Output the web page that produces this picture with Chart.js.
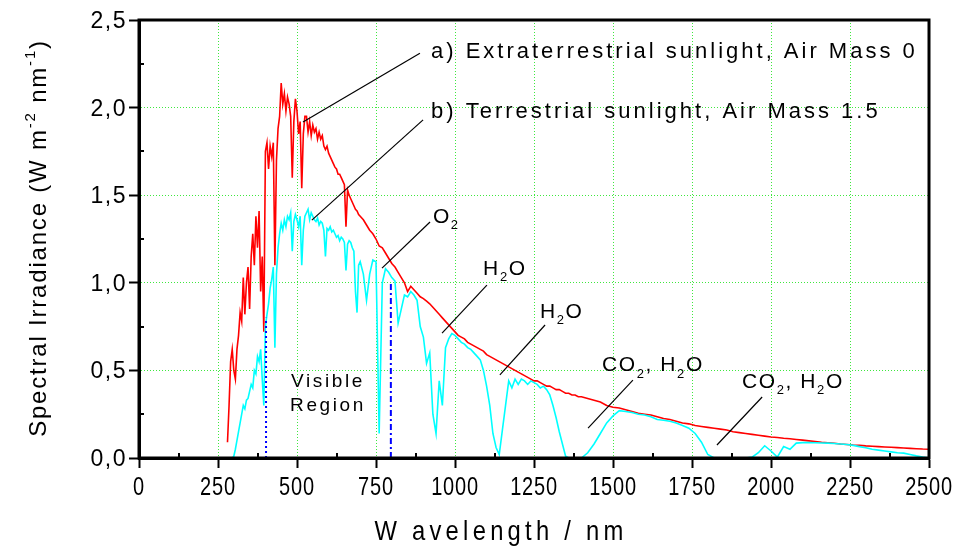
<!DOCTYPE html>
<html><head><meta charset="utf-8">
<script src="https://cdn.jsdelivr.net/npm/chart.js@4/dist/chart.umd.min.js"></script>
<style>html,body{margin:0;padding:0;background:#fff}#wrap{width:963px;height:552px}</style>
</head><body><div id="wrap"><canvas id="c" width="963" height="552"></canvas></div>
<script>
// ---- data ----
const wavelengths = [
280,285,290,295,300,305,310,315,320,325,330,335,340,345,350,355,360,365,370,375,
380,385,390,395,400,405,410,415,420,425,430,435,440,445,450,455,460,465,470,475,
480,485,490,495,500,505,510,515,520,525,530,535,540,545,550,555,560,565,570,575,
580,585,590,595,600,605,610,615,620,625,630,635,640,645,650,655,660,665,670,675,
680,685,690,695,700,
710,720,730,740,750,760,770,780,790,800,810,820,830,840,850,860,870,880,890,900,
910,920,930,940,950,960,970,980,990,1000,1010,1020,1030,1040,1050,1060,1070,1080,1090,1100,
1110,1120,1130,1140,1150,1160,1170,1180,1190,1200,1210,1220,1230,1240,1250,1260,1270,1280,1290,1300,
1310,1320,1330,1340,1350,1360,1370,1380,1390,1400,
1420,1440,1460,1480,1500,1520,1540,1560,1580,1600,1620,1640,1660,1680,1700,1720,1740,1760,1780,1800,
1820,1840,1860,1880,1900,1920,1940,1960,1980,2000,2020,2040,2060,2080,2100,2120,2140,2160,2180,2200,
2220,2240,2260,2280,2300,2320,2340,2360,2380,2400,2420,2440,2460,2480,2500];

const am0 = [
0.09,0.30,0.55,0.62,0.50,0.45,0.62,0.70,0.83,0.78,1.03,0.82,1.00,1.09,0.85,1.15,1.28,1.10,1.38,1.20,
1.41,0.95,1.15,0.72,1.75,1.80,1.65,1.78,1.72,1.80,1.10,1.70,1.88,1.95,2.14,2.02,2.08,1.98,2.06,2.02,
1.95,1.60,1.92,2.05,1.98,1.85,1.92,1.54,1.85,1.95,1.95,1.86,1.92,1.84,1.90,1.86,1.88,1.82,1.86,1.82,
1.84,1.78,1.76,1.78,1.74,1.72,1.70,1.68,1.66,1.65,1.62,1.62,1.60,1.58,1.56,1.32,1.53,1.50,1.48,1.46,
1.44,1.42,1.41,1.39,1.38,
1.36,1.33,1.30,1.28,1.25,1.21,1.20,1.17,1.14,1.11,1.09,1.06,1.03,1.00,0.95,0.98,0.96,0.94,0.92,0.91,
0.895,0.88,0.86,0.84,0.82,0.80,0.78,0.76,0.74,0.72,0.70,0.69,0.68,0.66,0.65,0.64,0.63,0.62,0.61,0.59,
0.58,0.57,0.56,0.55,0.54,0.53,0.52,0.51,0.50,0.49,0.48,0.47,0.46,0.45,0.44,0.44,0.43,0.42,0.41,0.41,
0.40,0.39,0.39,0.38,0.37,0.37,0.36,0.36,0.35,0.35,
0.34,0.33,0.32,0.30,0.29,0.285,0.275,0.265,0.255,0.25,0.245,0.235,0.225,0.22,0.21,0.20,0.195,0.185,0.18,0.175,
0.17,0.165,0.16,0.15,0.145,0.14,0.135,0.13,0.125,0.12,0.117,0.113,0.11,0.106,0.102,0.098,0.094,0.09,0.087,0.084,
0.08,0.077,0.074,0.072,0.069,0.067,0.065,0.063,0.061,0.059,0.057,0.055,0.053,0.051,0.05];

const am15 = [
0,0,0,0,0.01,0.05,0.10,0.15,0.20,0.25,0.30,0.28,0.33,0.34,0.38,0.42,0.40,0.50,0.48,0.58,
0.55,0.62,0.45,0.30,0.75,0.82,0.88,0.97,1.02,1.09,0.63,1.05,1.20,1.28,1.34,1.30,1.36,1.32,1.38,1.36,
1.40,1.18,1.35,1.39,1.36,1.32,1.38,1.10,1.30,1.38,1.40,1.42,1.36,1.40,1.38,1.36,1.35,1.37,1.33,1.35,
1.34,1.30,1.15,1.31,1.30,1.32,1.29,1.30,1.28,1.26,1.27,1.24,1.26,1.25,1.23,1.07,1.22,1.24,1.23,1.20,
1.18,0.95,0.83,1.10,1.12,
1.05,0.90,1.05,1.13,1.12,0.14,1.00,1.08,1.06,1.03,1.01,0.77,0.85,0.93,0.92,0.95,0.93,0.90,0.75,0.69,
0.54,0.60,0.25,0.14,0.44,0.30,0.63,0.68,0.71,0.70,0.68,0.66,0.65,0.63,0.62,0.60,0.58,0.56,0.50,0.41,
0.30,0.14,0.06,0.02,0.16,0.30,0.44,0.40,0.45,0.42,0.45,0.44,0.42,0.44,0.43,0.42,0.40,0.41,0.39,0.36,
0.30,0.23,0.15,0.08,0.01,0,0,0,0,0,
0.03,0.08,0.14,0.20,0.24,0.27,0.265,0.26,0.25,0.245,0.235,0.22,0.215,0.21,0.20,0.185,0.17,0.14,0.09,0.02,
0,0,0,0,0,0,0.005,0.03,0.07,0.04,0.005,0.065,0.05,0.085,0.088,0.088,0.087,0.086,0.085,0.083,
0.08,0.077,0.072,0.065,0.058,0.05,0.045,0.04,0.035,0.03,0.028,0.02,0.012,0.005,0];

const xTickValues = [0,250,500,750,1000,1250,1500,1750,2000,2250,2500];
const xTickLabels = ['0','250','500','750','1000','1250','1500','1750','2000','2250','2500'];
const yTickValues = [0,0.5,1.0,1.5,2.0,2.5];
const yTickLabels = ['0,0','0,5','1,0','1,5','2,0','2,5'];
const xMinorTicks = [125,375,625,875,1125,1375,1625,1875,2125,2375];
const yMinorTicks = [0.25,0.75,1.25,1.75,2.25];

// visible-region limits: [wavelength, top value]
const visibleLimitBlue = [402, 0.80];
const visibleLimitRed = [797, 1.01];

// leader lines: [x1,y1,x2,y2] in data units
const leaderLines = [
  [519,1.918,889,2.31],
  [547,1.358,899,1.93],
  [769,1.084,921,1.347],
  [959,0.713,1101,0.987],
  [1142,0.474,1285,0.759],
  [1421,0.171,1563,0.445],
  [1829,0.074,1972,0.348]
];
// annotation texts: parts [text, mode(0 normal,1 sub)], anchor x, y (data units, cap centre)
const annotations = [
  {parts:[['a) Extraterrestrial sunlight, Air Mass 0',0]], x:924, y:2.329, align:'left', size:22, ls:3.0},
  {parts:[['b) Terrestrial sunlight, Air Mass 1.5',0]], x:924, y:1.986, align:'left', size:22, ls:3.0},
  {parts:[['O',0],['2',1]], x:930, y:1.387, align:'left', size:21, ls:1.6},
  {parts:[['H',0],['2',1],['O',0]], x:1089, y:1.090, align:'left', size:21, ls:1.6},
  {parts:[['H',0],['2',1],['O',0]], x:1269, y:0.845, align:'left', size:21, ls:1.6},
  {parts:[['CO',0],['2',1],[', H',0],['2',1],['O',0]], x:1465, y:0.537, align:'left', size:21, ls:1.6},
  {parts:[['CO',0],['2',1],[', H',0],['2',1],['O',0]], x:1908, y:0.445, align:'left', size:21, ls:1.6},
  {parts:[['Visible',0]], x:598, y:0.445, align:'center', size:19, ls:2.6},
  {parts:[['Region',0]], x:598, y:0.308, align:'center', size:19, ls:2.6}
];

const FAM = "'Liberation Sans', Arial, sans-serif";

function drawRich(ctx, parts, x, y, size, family, ls, align, sx){
  sx = sx || 1;
  ctx.save();
  ctx.textBaseline = 'alphabetic';
  ctx.textAlign = 'left';
  ctx.letterSpacing = ls + 'px';
  const widths = [];
  let w = 0;
  for (const [t,m] of parts){
    ctx.font = (m ? Math.round(size*0.62) : size) + 'px ' + family;
    const ww = ctx.measureText(t).width;
    widths.push(ww); w += ww;
  }
  const tw = w * sx;
  const x0 = align === 'center' ? x - tw/2 : (align === 'right' ? x - tw : x);
  ctx.translate(x0, y);
  ctx.scale(sx, 1);
  let cx = 0;
  parts.forEach(([t,m],i)=>{
    ctx.font = (m ? Math.round(size*0.62) : size) + 'px ' + family;
    const dy = m===1 ? size*0.30 : (m===2 ? -size*0.45 : 0);
    ctx.fillText(t, cx, dy);
    cx += widths[i];
  });
  ctx.restore();
}

const decorPlugin = {
  id:'decor',
  afterDatasetsDraw(chart){
    const ctx = chart.ctx, xs = chart.scales.x, ys = chart.scales.y;
    ctx.save();
    ctx.fillStyle = '#000';
    for (const an of annotations){
      drawRich(ctx, an.parts, xs.getPixelForValue(an.x), ys.getPixelForValue(an.y) + an.size*0.36, an.size, FAM, an.ls, an.align, 1);
    }
    ctx.restore();
  },
  afterDraw(chart){
    const ctx = chart.ctx, xs = chart.scales.x, ys = chart.scales.y, a = chart.chartArea;
    ctx.save();
    ctx.strokeStyle = '#000';
    ctx.lineWidth = 3;
    ctx.strokeRect(a.left, a.top, a.right - a.left, a.bottom - a.top);
    ctx.lineWidth = 2;
    ctx.beginPath();
    for (const v of xMinorTicks){ const px = Math.round(xs.getPixelForValue(v)); ctx.moveTo(px, a.bottom); ctx.lineTo(px, a.bottom - 5); }
    for (const v of yMinorTicks){ const py = Math.round(ys.getPixelForValue(v)); ctx.moveTo(a.left, py); ctx.lineTo(a.left + 5, py); }
    ctx.stroke();
    ctx.fillStyle = '#000';
    xTickValues.forEach((v,i)=>{
      drawRich(ctx, [[xTickLabels[i],0]], xs.getPixelForValue(v), a.bottom + 37, 25, FAM, 1, 'center', 0.8);
    });
    yTickValues.forEach((v,i)=>{
      drawRich(ctx, [[yTickLabels[i],0]], a.left - 12, ys.getPixelForValue(v) + 8, 23, FAM, 1.5, 'right', 1);
    });
    drawRich(ctx, [['W avelength / nm',0]], 501, 540, 28, FAM, 5, 'center', 0.85);
    ctx.save();
    ctx.translate(46, 238);
    ctx.rotate(-Math.PI/2);
    drawRich(ctx, [['Spectral Irradiance (W m',0],['-2',2],[' nm',0],['-1',2],[')',0]], 0, 0, 24, FAM, 1.8, 'center', 1);
    ctx.restore();
    ctx.restore();
  }
};

const pts = (xsArr, ysArr) => xsArr.map((x,i)=>({x, y: ysArr[i]}));

const datasets = [
  {data: pts(wavelengths, am15), borderColor:'#00ffff', borderWidth:1.6, order:2},
  {data: pts(wavelengths, am0), borderColor:'#ff0000', borderWidth:1.6, order:3},
  {data: [{x:visibleLimitBlue[0],y:0},{x:visibleLimitBlue[0],y:visibleLimitBlue[1]}], borderColor:'#0000ff', borderWidth:2, borderDash:[2,3], order:1},
  {data: [{x:visibleLimitRed[0],y:0},{x:visibleLimitRed[0],y:visibleLimitRed[1]}], borderColor:'#0000ff', borderWidth:2, borderDash:[6,3,2,3], order:1}
];
for (const l of leaderLines){
  datasets.push({data:[{x:l[0],y:l[1]},{x:l[2],y:l[3]}], borderColor:'#000', borderWidth:1.2, order:0});
}
datasets.forEach(d=>{ d.pointRadius = 0; d.fill = false; d.tension = 0; });

new Chart(document.getElementById('c'), {
  type:'line',
  data:{datasets},
  plugins:[decorPlugin],
  options:{
    responsive:false, animation:false, devicePixelRatio:1,
    layout:{padding:{left:0, top:20, right:34, bottom:0}},
    plugins:{legend:{display:false}, tooltip:{enabled:false}},
    scales:{
      x:{type:'linear', min:0, max:2500,
         afterBuildTicks:(s)=>{ s.ticks = xTickValues.map(v=>({value:v})); },
         afterFit:(s)=>{ s.height = 94; },
         ticks:{display:false},
         grid:{color:'#3ee83e', lineWidth:1, drawTicks:true, tickLength:10, tickColor:'#000', tickWidth:2},
         border:{display:true, color:'#000', width:3, dash:[1,2]}},
      y:{type:'linear', min:0, max:2.5,
         afterBuildTicks:(s)=>{ s.ticks = yTickValues.map(v=>({value:v})); },
         afterFit:(s)=>{ s.width = 139; },
         ticks:{display:false},
         grid:{color:'#3ee83e', lineWidth:1, drawTicks:true, tickLength:10, tickColor:'#000', tickWidth:2},
         border:{display:true, color:'#000', width:3, dash:[1,2]}}
    }
  }
});
</script>
</body></html>
